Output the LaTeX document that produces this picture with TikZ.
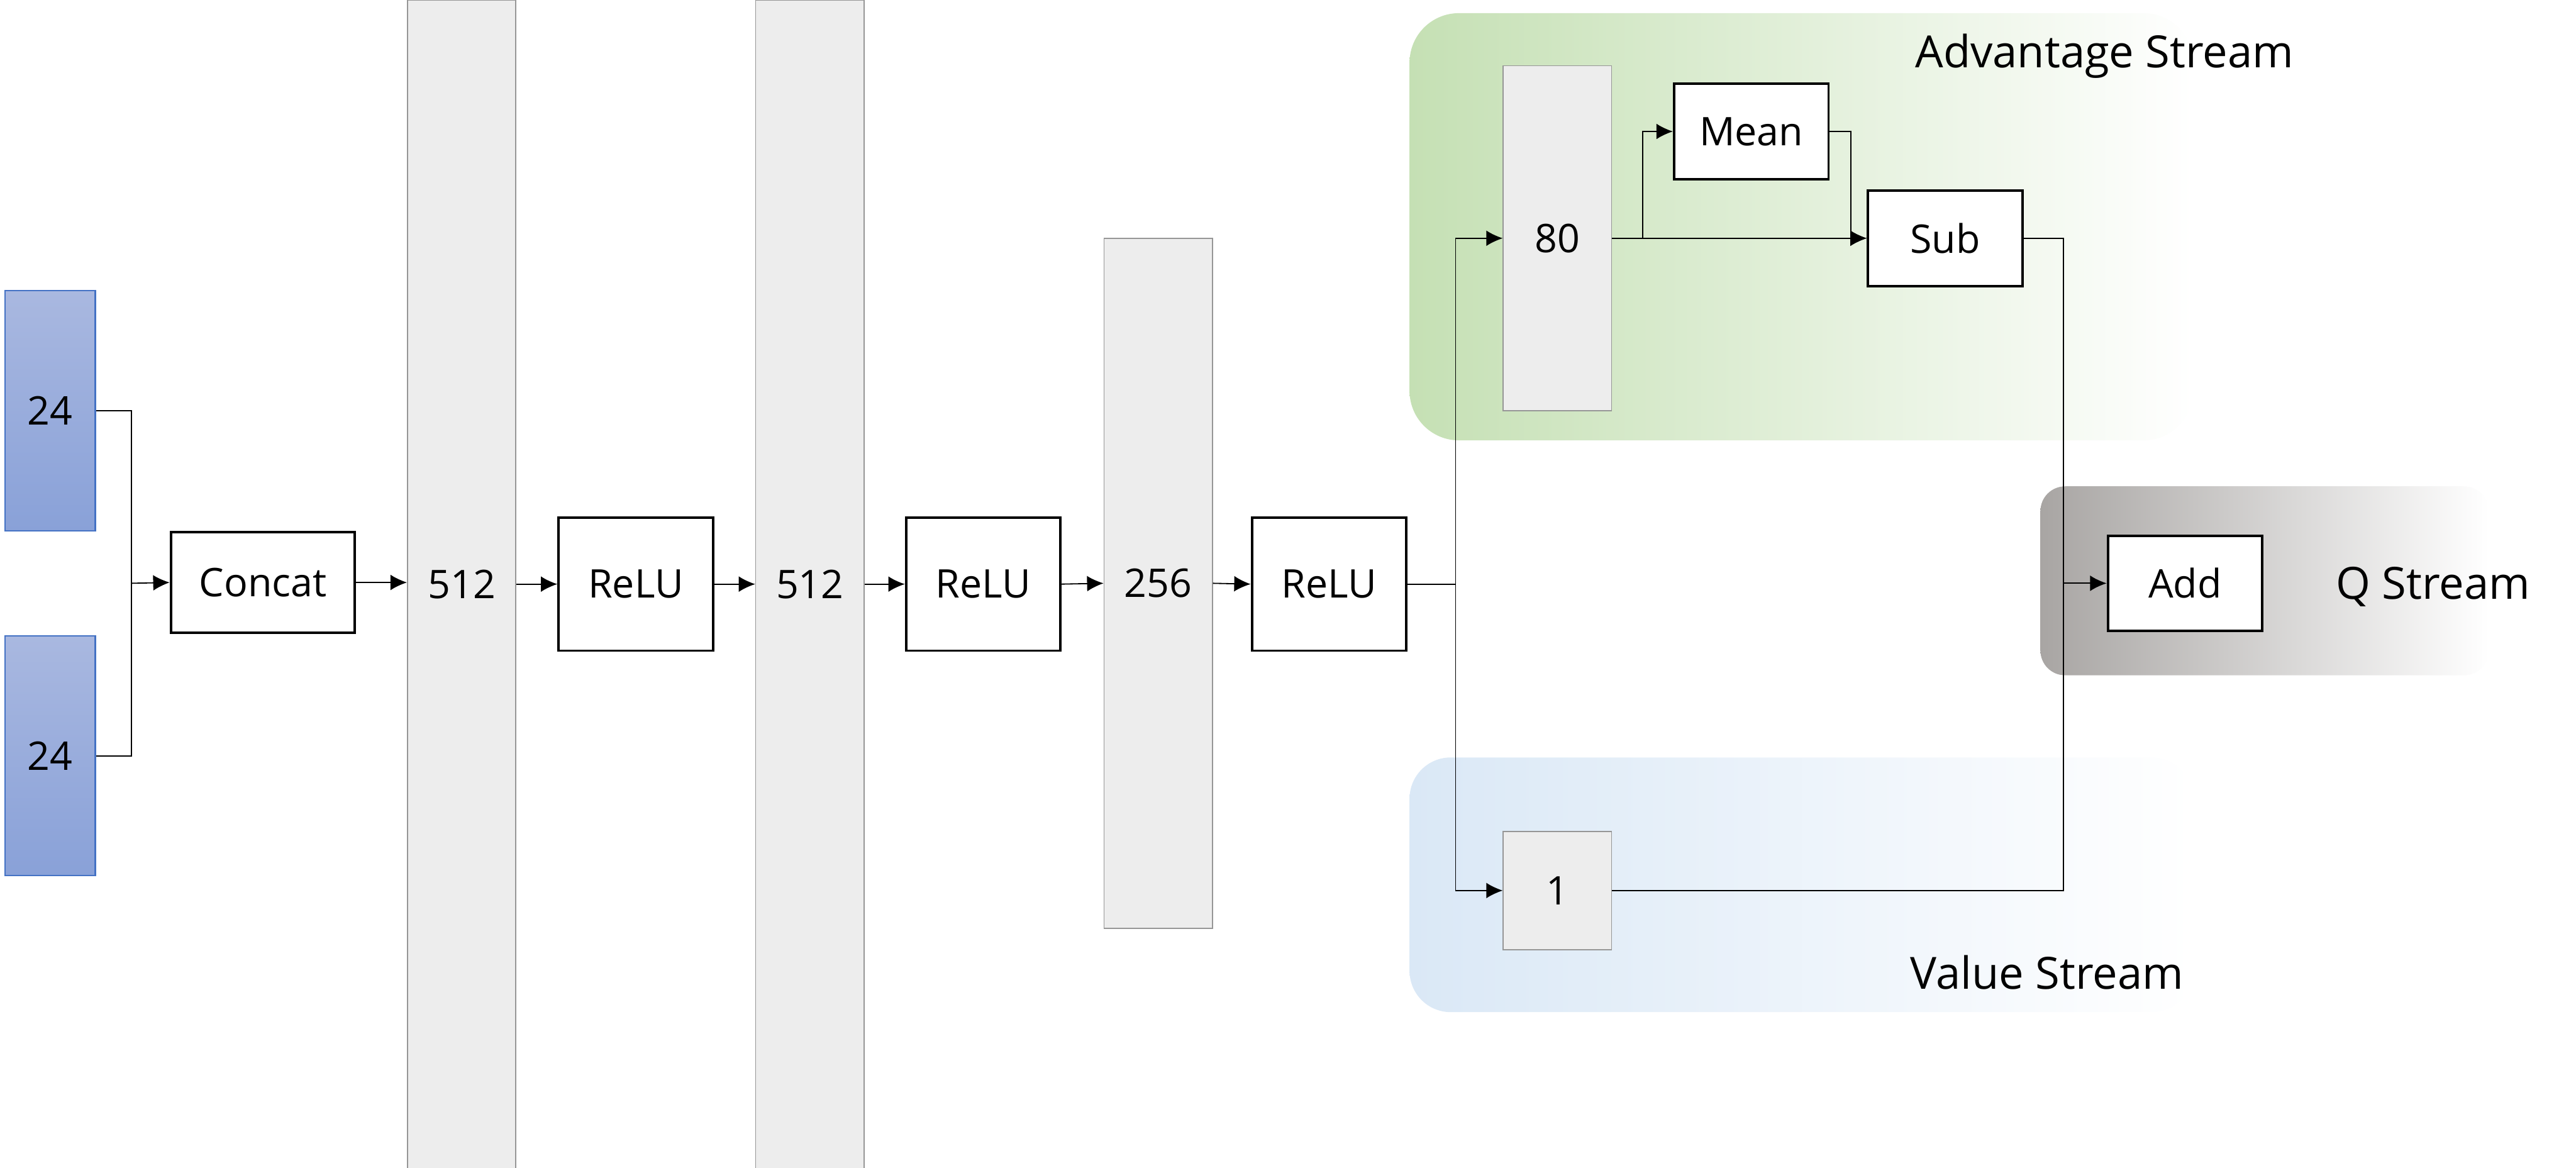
\documentclass[tikz,border=0pt]{standalone}
\usepackage{fontspec}
\setmainfont{Open Sans}
\usetikzlibrary{arrows.meta}
\definecolor{inblue}{RGB}{68,114,196}
\definecolor{intop}{RGB}{169,184,224}
\definecolor{inbot}{RGB}{137,161,216}
\definecolor{barfill}{RGB}{237,237,237}
\definecolor{bardraw}{RGB}{150,150,150}
\definecolor{advgreen}{RGB}{197,224,180}
\definecolor{valblue}{RGB}{218,232,246}
\definecolor{qgray}{RGB}{168,165,163}

\begin{document}
\begin{tikzpicture}[
		x=1pt, y=-1pt,
		inp/.style={rectangle, draw=inblue, line width=0.8pt, top color=intop, bottom color=inbot, minimum width=55, minimum height=146, inner sep=0pt, font=\fontsize{24}{28}\selectfont},
		layer/.style={rectangle, draw=bardraw, line width=0.6pt, fill=barfill, minimum width=66, inner sep=0pt, font=\fontsize{24}{28}\selectfont},
		op/.style={rectangle, draw, line width=1.5pt, fill=white, minimum width=94, minimum height=58, inner sep=0pt, font=\fontsize{24}{28}\selectfont},
		stream/.style={inner sep=0pt, font=\fontsize{27}{32}\selectfont},
		conn/.style={line width=0.7pt},
		>={Latex[length=10pt,width=9.5pt]}]
	\useasboundingbox (0,0) rectangle (1568,710.6);
	%% stream backgrounds
	\shade[left color=advgreen, right color=white, rounded corners=30pt] (858,8) rectangle (1335,268);
	\shade[left color=valblue, right color=white, rounded corners=25pt] (858,461) rectangle (1335,616);
	\shade[left color=qgray, right color=white, rounded corners=15pt] (1242,296) rectangle (1515,411);
	\node (advtxt) at (1281,34) [stream] {Advantage Stream};
	\node (valtxt) at (1246,592) [stream] {Value Stream};
	\node (qtxt) at (1481,357) [stream] {Q Stream};
	%% define inputs and trunk
	\node (in1) at (30.5,250) [inp] {24};
	\node (in2) at (30.5,460) [inp] {24};
	\node (concat) at (160,354.5) [op, minimum width=112, minimum height=61] {Concat};
	\node (fc1) at (281,355.5) [layer, minimum height=711] {512};
	\node (relu1) at (387,355.5) [op, minimum height=81] {ReLU};
	\node (fc2) at (493,355.5) [layer, minimum height=711] {512};
	\node (relu2) at (598.5,355.5) [op, minimum height=81] {ReLU};
	\node (fc3) at (705,355) [layer, minimum height=420] {256};
	\node (relu3) at (809,355.5) [op, minimum height=81] {ReLU};
	%% define heads
	\node (adv) at (948,145) [layer, minimum height=210] {80};
	\node (mean) at (1066,80) [op] {Mean};
	\node (sub) at (1184,145) [op] {Sub};
	\node (val) at (948,542) [layer, minimum height=72] {1};
	\node (add) at (1330,355) [op] {Add};
	%% define junctions
	\coordinate (merge) at (80,355);
	\coordinate (fork) at (886,355.5);
	\coordinate (mtap) at (1000,145);
	\coordinate (join) at (1256,355);
	%% define arrows
	\draw[conn] (in1.east) -| (merge);
	\draw[conn] (in2.east) -| (merge);
	\draw[conn,->] (merge) -- (concat.west);
	\draw[conn,->] (concat.east) -- (concat.east -| fc1.west);
	\draw[conn,->] (fc1.east) -- (relu1.west);
	\draw[conn,->] (relu1.east) -- (fc2.west);
	\draw[conn,->] (fc2.east) -- (relu2.west);
	\draw[conn,->] (relu2.east) -- (fc3.west);
	\draw[conn,->] (fc3.east) -- (relu3.west);
	\draw[conn] (relu3.east) -- (fork);
	\draw[conn,->] (fork) |- (adv.west);
	\draw[conn,->] (fork) |- (val.west);
	\draw[conn,->] (adv.east) -- (sub.west);
	\draw[conn,->] (mtap) |- (mean.west);
	\draw[conn,->] (mean.east) -- ++(13,0) |- (sub.west);
	\draw[conn] (sub.east) -| (join);
	\draw[conn] (val.east) -| (join);
	\draw[conn,->] (join) -- (add.west);
\end{tikzpicture}
\end{document}
